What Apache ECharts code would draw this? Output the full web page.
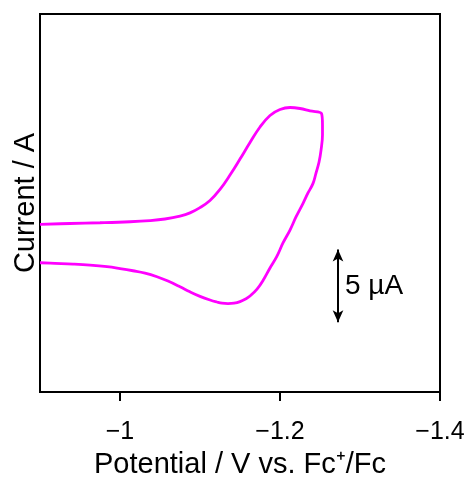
<!DOCTYPE html>
<html>
<head>
<meta charset="utf-8">
<script src="https://cdn.jsdelivr.net/npm/echarts@6/dist/echarts.min.js"></script>
<style>
html,body{margin:0;padding:0;background:#fff;}
#chart{width:467px;height:479px;}
</style>
</head>
<body>
<div id="chart"></div>
<script>
// Forward scan (towards negative potential), potential in V vs Fc+/Fc, current in µA
var potentialForward = [-0.9, -0.9375, -0.975, -1.0125, -1.0375, -1.05625, -1.075, -1.0875, -1.1, -1.1125, -1.125, -1.1375, -1.15, -1.1625, -1.175, -1.1875, -1.2, -1.2125, -1.225, -1.2375, -1.2519];
var currentForward   = [1.53, 1.59, 1.64, 1.71, 1.79, 1.90, 2.10, 2.32, 2.68, 3.17, 3.93, 4.92, 6.02, 7.16, 8.23, 9.02, 9.43, 9.57, 9.50, 9.33, 9.15];
// Reverse scan (back towards positive potential)
var potentialReverse = [-1.2519, -1.2531, -1.2531, -1.2513, -1.2488, -1.245, -1.2413, -1.235, -1.2288, -1.22, -1.2125, -1.20375, -1.1959, -1.1875, -1.1791, -1.1713, -1.1625, -1.1575, -1.15, -1.1425, -1.135, -1.1275, -1.12125, -1.1125, -1.1, -1.0875, -1.075, -1.06, -1.04625, -1.03125, -1.01625, -1.0, -0.98375, -0.9625, -0.94125, -0.91875, -0.9];
var currentReverse   = [9.15, 8.36, 7.68, 6.64, 5.82, 5.06, 4.35, 3.69, 2.98, 2.04, 1.14, 0.25, -0.69, -1.47, -2.30, -2.92, -3.40, -3.58, -3.78, -3.89, -3.92, -3.89, -3.81, -3.67, -3.42, -3.11, -2.76, -2.37, -2.07, -1.82, -1.66, -1.51, -1.38, -1.27, -1.20, -1.15, -1.11];
// x tick values
var xTicks = [-1.4, -1.2, -1.0];
// Scale bar (5 µA)
var scaleBarPotential = -1.2725;
var scaleBarCurrent = [-5.2, -0.2];
var scaleBarText = '5 µA';

var FONT = "'Liberation Sans', Arial, sans-serif";

var cvData = [];
for (var i = 0; i < potentialForward.length; i++) cvData.push([potentialForward[i], currentForward[i]]);
for (var j = 1; j < potentialReverse.length; j++) cvData.push([potentialReverse[j], currentReverse[j]]);

var chart = echarts.init(document.getElementById('chart'), null, {renderer: 'canvas'});
chart.setOption({
  animation: false,
  backgroundColor: '#fff',
  grid: {left: 40, right: 27, top: 14, bottom: 87, containLabel: false, outerBoundsMode: 'none',
    show: true, borderColor: '#000', borderWidth: 2, backgroundColor: 'transparent'},
  xAxis: {
    type: 'value', inverse: true, min: -1.4, max: -0.9, interval: 0.2,
    name: 'Potential / V vs. Fc⁺/Fc', nameLocation: 'middle', nameGap: 58,
    nameTextStyle: {fontFamily: FONT, fontSize: 29, color: '#000'},
    axisLine: {show: true, onZero: false, lineStyle: {color: '#000', width: 2}},
    axisTick: {show: true, inside: false, length: 9, lineStyle: {color: '#000', width: 2}, customValues: xTicks},
    axisLabel: {show: true, margin: 28, fontFamily: FONT, fontSize: 25, color: '#000', customValues: xTicks,
      formatter: function (v) { return String(Math.round(v * 10) / 10).replace('-', '\u2212'); }},
    splitLine: {show: false}
  },
  yAxis: {
    type: 'value', min: -10, max: 16,
    name: 'Current / A', nameLocation: 'middle', nameGap: 0,
    nameTextStyle: {fontFamily: FONT, fontSize: 29, color: '#000'},
    axisLine: {show: false}, axisTick: {show: false}, axisLabel: {show: false}, splitLine: {show: false}
  },
  series: [
    {
      type: 'line', data: cvData, smooth: 0.4, symbol: 'none', clip: true,
      lineStyle: {color: '#ff00ff', width: 2.8}
    },
    {
      type: 'scatter', symbolSize: 0, silent: true,
      itemStyle: {opacity: 1, color: '#000'},
      data: [[scaleBarPotential, (scaleBarCurrent[0] + scaleBarCurrent[1]) / 2]],
      label: {show: true, position: 'right', distance: 7, formatter: scaleBarText, fontFamily: FONT, fontSize: 28, color: '#000', opacity: 1},
      markLine: {
        silent: true, symbol: ['arrow', 'arrow'], symbolSize: [8, 12],
        lineStyle: {color: '#000', width: 2, type: 'solid', opacity: 1},
        label: {show: false},
        data: [[{coord: [scaleBarPotential, scaleBarCurrent[0]]}, {coord: [scaleBarPotential, scaleBarCurrent[1]]}]]
      }
    }
  ]
});
</script>
</body>
</html>
